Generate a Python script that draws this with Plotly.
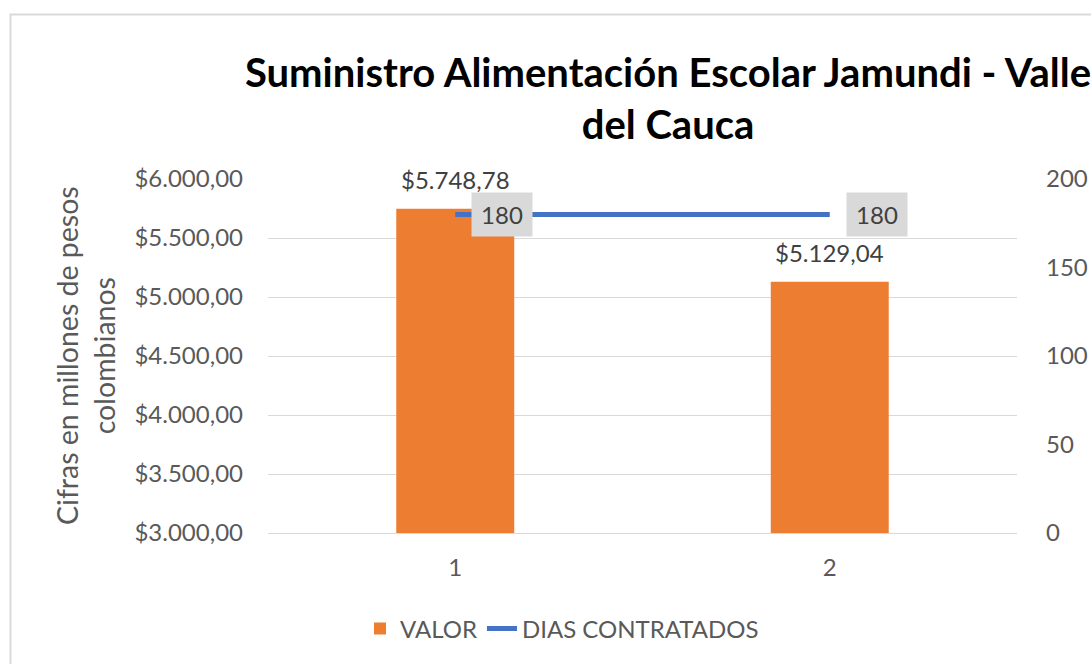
import plotly.graph_objects as go

categories = ["1", "2"]
valor = [5748.78, 5129.04]
dias = [180, 180]
left_ticks = [3000, 3500, 4000, 4500, 5000, 5500, 6000]
right_ticks = [0, 50, 100, 150, 200]

FONT = "Lato"
TICK_COLOR = "#595959"
LABEL_COLOR = "#404040"
ORANGE = "#ED7D31"
BLUE = "#4472C4"
GRID = "#D9D9D9"


def cop(v):
    s = f"{v:,.2f}".replace(",", "X").replace(".", ",").replace("X", ".")
    return "$" + s


# plot-area geometry (pixels)
W, H = 1091, 664
L, R, T, B = 268, 74, 179, 131
PW, PH = W - L - R, H - T - B

fig = go.Figure()
fig.add_trace(go.Bar(
    x=categories, y=valor, name="VALOR",
    marker=dict(color=ORANGE, line=dict(width=0)),
    yaxis="y", hoverinfo="skip",
))
fig.add_trace(go.Scatter(
    x=categories, y=dias, name="DIAS CONTRATADOS",
    mode="lines", line=dict(color=BLUE, width=5),
    yaxis="y2", hoverinfo="skip",
))

annotations = []
for i, v in enumerate(valor):
    annotations.append(dict(
        x=i, y=v, xref="x", yref="y", text=cop(v), showarrow=False,
        yanchor="middle", yshift=29,
        font=dict(family=FONT, size=24, color=LABEL_COLOR),
    ))
for i, d in enumerate(dias):
    annotations.append(dict(
        x=i, y=d, xref="x", yref="y2", text=str(d), showarrow=False,
        xanchor="center", yanchor="middle", xshift=47,
        width=60, height=43, borderpad=0, bgcolor="#D9D9D9",
        font=dict(family=FONT, size=24, color=LABEL_COLOR),
    ))
annotations.append(dict(
    x=(85 - L) / PW, y=0.5, xref="paper", yref="paper",
    text="Cifras en millones de pesos<br>colombianos", showarrow=False,
    textangle=-90, xanchor="center", yanchor="middle",
    font=dict(family=FONT, size=28.5, color=TICK_COLOR),
))

fig.update_layout(
    width=W, height=H,
    margin=dict(l=L, r=R, t=T, b=B, pad=0, autoexpand=False),
    paper_bgcolor="white", plot_bgcolor="white",
    separators=",.",
    bargap=0.685,
    title=dict(
        text="Suministro Alimentación Escolar Jamundi - Valle<br>del Cauca",
        x=668 / W, xanchor="center", xref="container",
        y=1 - 87 / H, yanchor="top", yref="container",
        font=dict(family=FONT, size=40, color="black", weight="bold"),
    ),
    showlegend=True,
    legend=dict(
        orientation="h", x=(562 - L) / PW, xanchor="center",
        y=(533 - 629) / PH, yanchor="middle",
        font=dict(family=FONT, size=24, color=TICK_COLOR),
        bgcolor="rgba(0,0,0,0)",
    ),
    xaxis=dict(
        type="category", range=[-0.5, len(categories) - 0.5],
        showgrid=False, zeroline=False, automargin=False,
        showline=True, linecolor=GRID, linewidth=1,
        ticks="", ticklabelstandoff=13,
        tickfont=dict(family=FONT, size=24, color=TICK_COLOR),
    ),
    yaxis=dict(
        range=[3000, 6000], tickvals=left_ticks,
        ticktext=[cop(t) for t in left_ticks],
        showgrid=True, gridcolor=GRID, gridwidth=1, automargin=False,
        zeroline=False, showline=False, ticks="",
        ticklabelstandoff=24,
        tickfont=dict(family=FONT, size=24, color=TICK_COLOR),
    ),
    yaxis2=dict(
        range=[0, 200], tickvals=right_ticks,
        overlaying="y", side="right", automargin=False,
        showgrid=False, zeroline=False, showline=False, ticks="",
        ticklabelstandoff=28,
        tickfont=dict(family=FONT, size=24, color=TICK_COLOR),
    ),
    annotations=annotations,
    shapes=[dict(
        type="rect", xref="paper", yref="paper",
        x0=(10.5 - L) / PW, x1=(W + 20 - L) / PW,
        y0=(T + PH - (H + 20)) / PH, y1=(T + PH - 14.5) / PH,
        line=dict(color="#D9D9D9", width=2), fillcolor="rgba(0,0,0,0)",
        layer="below",
    )],
)

fig.write_html(
    "out.html",
    config={"displayModeBar": False},
    post_script="document.body.style.margin='0px';",
)
